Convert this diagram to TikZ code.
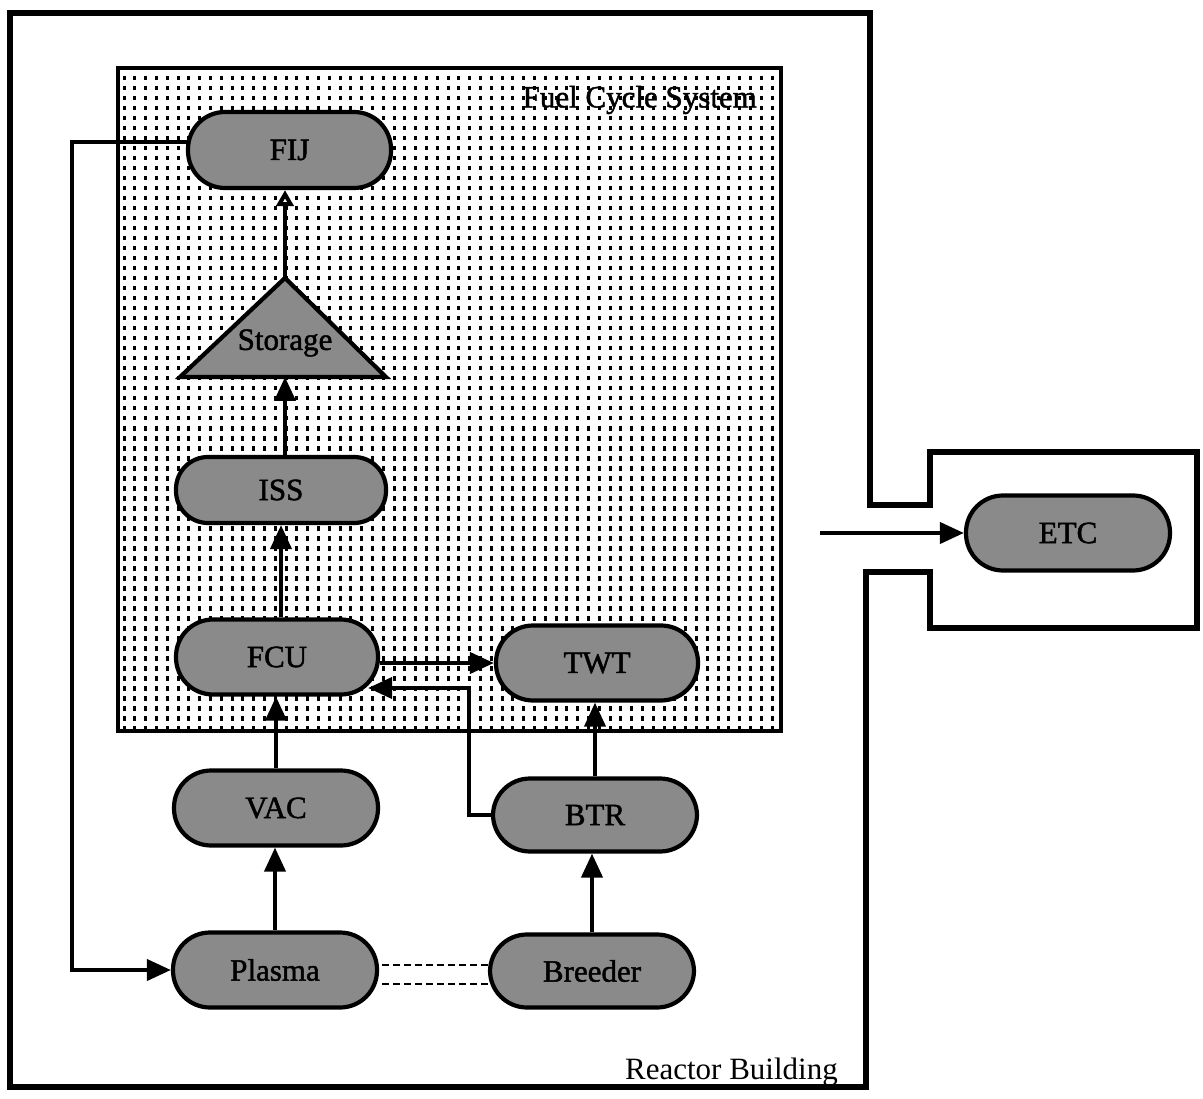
\documentclass[tikz,border=0pt]{standalone}
\usepackage{fontspec}
\setmainfont{Liberation Serif}
\newfontfamily\heavyserif{Liberation Serif}[FakeBold=1.5]
\usetikzlibrary{arrows.meta,calc}
\begin{document}
\begin{tikzpicture}[x=1pt,y=-1pt,
  unit/.style={draw,line width=4.2pt,fill=black!46,rounded corners=37pt,
    minimum width=204pt,minimum height=75pt,inner sep=0pt,
    font=\heavyserif\fontsize{31}{36}\selectfont},
  flow/.style={line width=4pt,-{Triangle[length=24pt,width=21pt]}},
  wire/.style={line width=4pt},
  tie/.style={line width=2.8pt,dash pattern=on 7pt off 4pt},
  caption/.style={font=\fontsize{31}{36}\selectfont,inner sep=0pt},
  dotcol/.style={line width=3pt,dash pattern=on 4.5pt off 5.5pt},
]
\useasboundingbox (0,0) rectangle (1203,1099);

% reactor building outline with the port to the ETC enclosure
\draw[line width=5.5pt,line join=miter]
  (10,13) -- (870,13) -- (870,505) -- (930,505) -- (930,452) -- (1197,452)
  -- (1197,628) -- (930,628) -- (930,572) -- (866,572) -- (866,1087)
  -- (10,1087) -- cycle;
\node[caption,anchor=base east] (rbTitle) at (838,1079) {Reactor Building};

% fuel cycle system area: dotted fill and frame
\node[minimum width=663pt,minimum height=663pt,inner sep=0pt] (fcs) at (449.5,399.5) {};
\begin{scope}
  \clip (fcs.north west) rectangle (fcs.south east);
  \foreach \x in {124,134.8,...,781} \draw[dotcol] (\x,66) -- (\x,733);
\end{scope}
\draw[line width=4.2pt] (fcs.north west) rectangle (fcs.south east);
\node[caption,font=\heavyserif\fontsize{31}{36}\selectfont,anchor=east] (fcsTitle) at (757,100) {Fuel Cycle System};

% units
\node[unit,minimum width=203pt,minimum height=76pt] (FIJ) at (289.5,150) {FIJ};
\node[unit,minimum width=210pt,minimum height=66pt,rounded corners=32pt] (ISS) at (281,490) {ISS};
\node[unit,minimum width=202pt] (FCU) at (277,657) {FCU};
\node[unit,minimum width=202pt] (TWT) at (597,663) {TWT};
\node[unit] (VAC) at (276,808) {VAC};
\node[unit,minimum height=73pt] (BTR) at (595,815) {BTR};
\node[unit] (Plasma) at (275,970) {Plasma};
\node[unit,minimum height=73pt] (Breeder) at (592,971) {Breeder};
\node[unit] (ETC) at (1068,533) {ETC};

% storage tank
\coordinate (stoTop) at (285,278);
\coordinate (stoBase) at (285,377);
\draw[line width=4.2pt,fill=black!46] (stoTop) -- (386,377) -- (180,377) -- cycle;
\node[caption,font=\heavyserif\fontsize{31}{36}\selectfont] (Storage) at (285,343) {Storage};

% flows
\draw[flow] (FCU.north -| ISS.south) -- (ISS.south);
\draw[flow] (ISS.north -| stoBase) -- (stoBase);
\draw[wire,-{Triangle[length=16pt,width=17pt,fill=white]}] (stoTop) -- (stoTop |- FIJ.south);
\draw[flow] (VAC.north) -- (VAC.north |- FCU.south);
\draw[flow] (Plasma.north) -- (Plasma.north |- VAC.south);
\draw[flow] (Breeder.north) -- (Breeder.north |- BTR.south);
\draw[flow] (BTR.north) -- (BTR.north |- TWT.south);
\draw[flow] (FCU.east |- TWT.west) -- (TWT.west);

\coordinate (btrBend) at (469,688);
\draw[flow] (BTR.west) -| (btrBend) -- ($(FCU.east |- btrBend)+(-12,0)$);

\coordinate (fijOut) at ($(FIJ.west)+(1,-8)$);
\coordinate (loopX) at (72,0);
\draw[flow] (fijOut) -| (loopX |- Plasma.west) -- (Plasma.west);

\draw[tie] ($(Plasma.east)+(3,-5)$) -- ($(Breeder.west |- Plasma.east)+(0,-5)$);
\draw[tie] ($(Plasma.east)+(3,14)$) -- ($(Breeder.west |- Plasma.east)+(0,14)$);

\coordinate (etcSrc) at (820,533);
\draw[flow] (etcSrc) -- (ETC.west);
\end{tikzpicture}
\end{document}
